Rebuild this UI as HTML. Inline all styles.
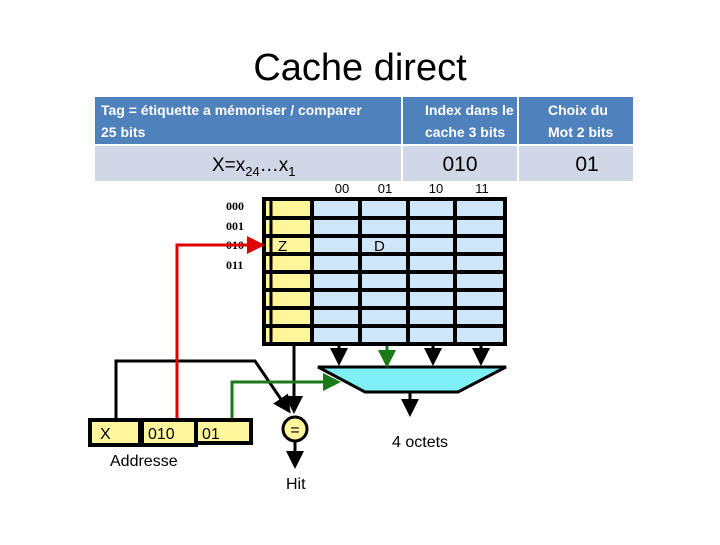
<!DOCTYPE html>
<html><head><meta charset="utf-8"><style>
body{margin:0;width:720px;height:540px;background:#fff;overflow:hidden;font-family:"Liberation Sans",sans-serif;}
</style></head><body>
<svg width="720" height="540" viewBox="0 0 720 540" xmlns="http://www.w3.org/2000/svg" font-family="Liberation Sans, sans-serif">
<defs>
<marker id="ab" markerWidth="6" markerHeight="6" refX="5" refY="3" orient="auto" markerUnits="strokeWidth"><path d="M0,0 L6,3 L0,6z" fill="#000"/></marker>
<marker id="ag" markerWidth="6" markerHeight="6" refX="5" refY="3" orient="auto" markerUnits="strokeWidth"><path d="M0,0 L6,3 L0,6z" fill="#1a7a1a"/></marker>
<marker id="ar" markerWidth="6" markerHeight="6" refX="5" refY="3" orient="auto" markerUnits="strokeWidth"><path d="M0,0 L6,3 L0,6z" fill="#e00000"/></marker>
</defs>
<text x="360" y="80" font-size="38" text-anchor="middle" font-family="Liberation Sans, sans-serif">Cache direct</text>
<!-- table -->
<rect x="95" y="97" width="538" height="48" fill="#4f81bd"/>
<rect x="95" y="146" width="538" height="35" fill="#d0d8e8"/>
<line x1="402" y1="97" x2="402" y2="181" stroke="#fff" stroke-width="2"/>
<line x1="518" y1="97" x2="518" y2="181" stroke="#fff" stroke-width="2"/>
<line x1="95" y1="145" x2="633" y2="145" stroke="#fff" stroke-width="2"/>
<g fill="#fff" font-size="14" font-weight="bold">
<text x="101" y="115">Tag = étiquette a mémoriser / comparer</text>
<text x="101" y="137"> 25 bits</text>
<text x="425" y="115">Index dans le</text>
<text x="425" y="137">cache 3 bits</text>
<text x="548" y="115">Choix du</text>
<text x="548" y="137">Mot 2 bits</text>
</g>
<text x="212" y="171" font-size="19">X=x<tspan font-size="13" dy="5">24</tspan><tspan dy="-5">…x</tspan><tspan font-size="13" dy="5">1</tspan></text>
<text x="460" y="171" font-size="21" text-anchor="middle">010</text>
<text x="587" y="171" font-size="21" text-anchor="middle">01</text>
<!-- column labels -->
<g font-size="13" text-anchor="middle">
<text x="342" y="193">00</text><text x="385" y="193">01</text><text x="436" y="193">10</text><text x="482" y="193">11</text>
</g>
<!-- grid -->
<rect x="264" y="197" width="241" height="147" fill="#cfe6f8"/>
<rect x="266" y="197" width="46" height="147" fill="#fff59a"/>
<g stroke="#000" stroke-width="4" fill="none">
<rect x="264" y="199" width="241" height="145"/>
<line x1="271" y1="199" x2="271" y2="344" stroke-width="3"/>
<line x1="312" y1="199" x2="312" y2="344"/>
<line x1="360" y1="199" x2="360" y2="344"/>
<line x1="408" y1="199" x2="408" y2="344"/>
<line x1="455" y1="199" x2="455" y2="344"/>
<line x1="264" y1="218" x2="505" y2="218"/>
<line x1="264" y1="236" x2="505" y2="236"/>
<line x1="264" y1="254" x2="505" y2="254"/>
<line x1="264" y1="272" x2="505" y2="272"/>
<line x1="264" y1="290" x2="505" y2="290"/>
<line x1="264" y1="308" x2="505" y2="308"/>
<line x1="264" y1="326" x2="505" y2="326"/>
</g>
<text x="278" y="251" font-size="15">Z</text>
<text x="374" y="251" font-size="15">D</text>
<g font-size="12" font-family="Liberation Serif, serif" font-weight="bold">
<text x="226" y="210">000</text><text x="226" y="230">001</text><text x="226" y="249">010</text><text x="226" y="269">011</text>
</g>
<!-- mux -->
<polygon points="318,367 506,367 458,392 365,392" fill="#7ef0f6" stroke="#000" stroke-width="3"/>
<g stroke="#000" stroke-width="3">
<line x1="339" y1="344" x2="339" y2="363" marker-end="url(#ab)"/>
<line x1="433" y1="344" x2="433" y2="363" marker-end="url(#ab)"/>
<line x1="481" y1="344" x2="481" y2="363" marker-end="url(#ab)"/>
<line x1="410" y1="392" x2="410" y2="414" marker-end="url(#ab)"/>
<line x1="294" y1="344" x2="294" y2="411" marker-end="url(#ab)"/>
<line x1="295" y1="442" x2="295" y2="466" marker-end="url(#ab)"/>
<polyline points="116,420 116,361 255,361 289,411" fill="none" marker-end="url(#ab)"/>
</g>
<line x1="387" y1="346" x2="387" y2="365" stroke="#1a7a1a" stroke-width="3" marker-end="url(#ag)"/>
<polyline points="232,422 232,382 338,382" fill="none" stroke="#1a7a1a" stroke-width="3" marker-end="url(#ag)"/>
<polyline points="177,420 177,245 262,245" fill="none" stroke="#e00000" stroke-width="3" marker-end="url(#ar)"/>
<circle cx="295" cy="429" r="12" fill="#fff59a" stroke="#000" stroke-width="3"/>
<text x="295" y="435" font-size="16" text-anchor="middle">=</text>
<!-- address -->
<g fill="#fff59a" stroke="#000" stroke-width="4">
<rect x="90" y="420" width="50" height="25"/>
<rect x="142" y="420" width="54" height="25"/>
<rect x="196" y="420" width="55" height="23"/>
</g>
<g font-size="16">
<text x="100" y="439">X</text><text x="148" y="439">010</text><text x="202" y="439">01</text>
</g>
<text x="110" y="466" font-size="16">Addresse</text>
<text x="286" y="489" font-size="16">Hit</text>
<text x="392" y="447" font-size="16">4 octets</text>
</svg>
</body></html>
